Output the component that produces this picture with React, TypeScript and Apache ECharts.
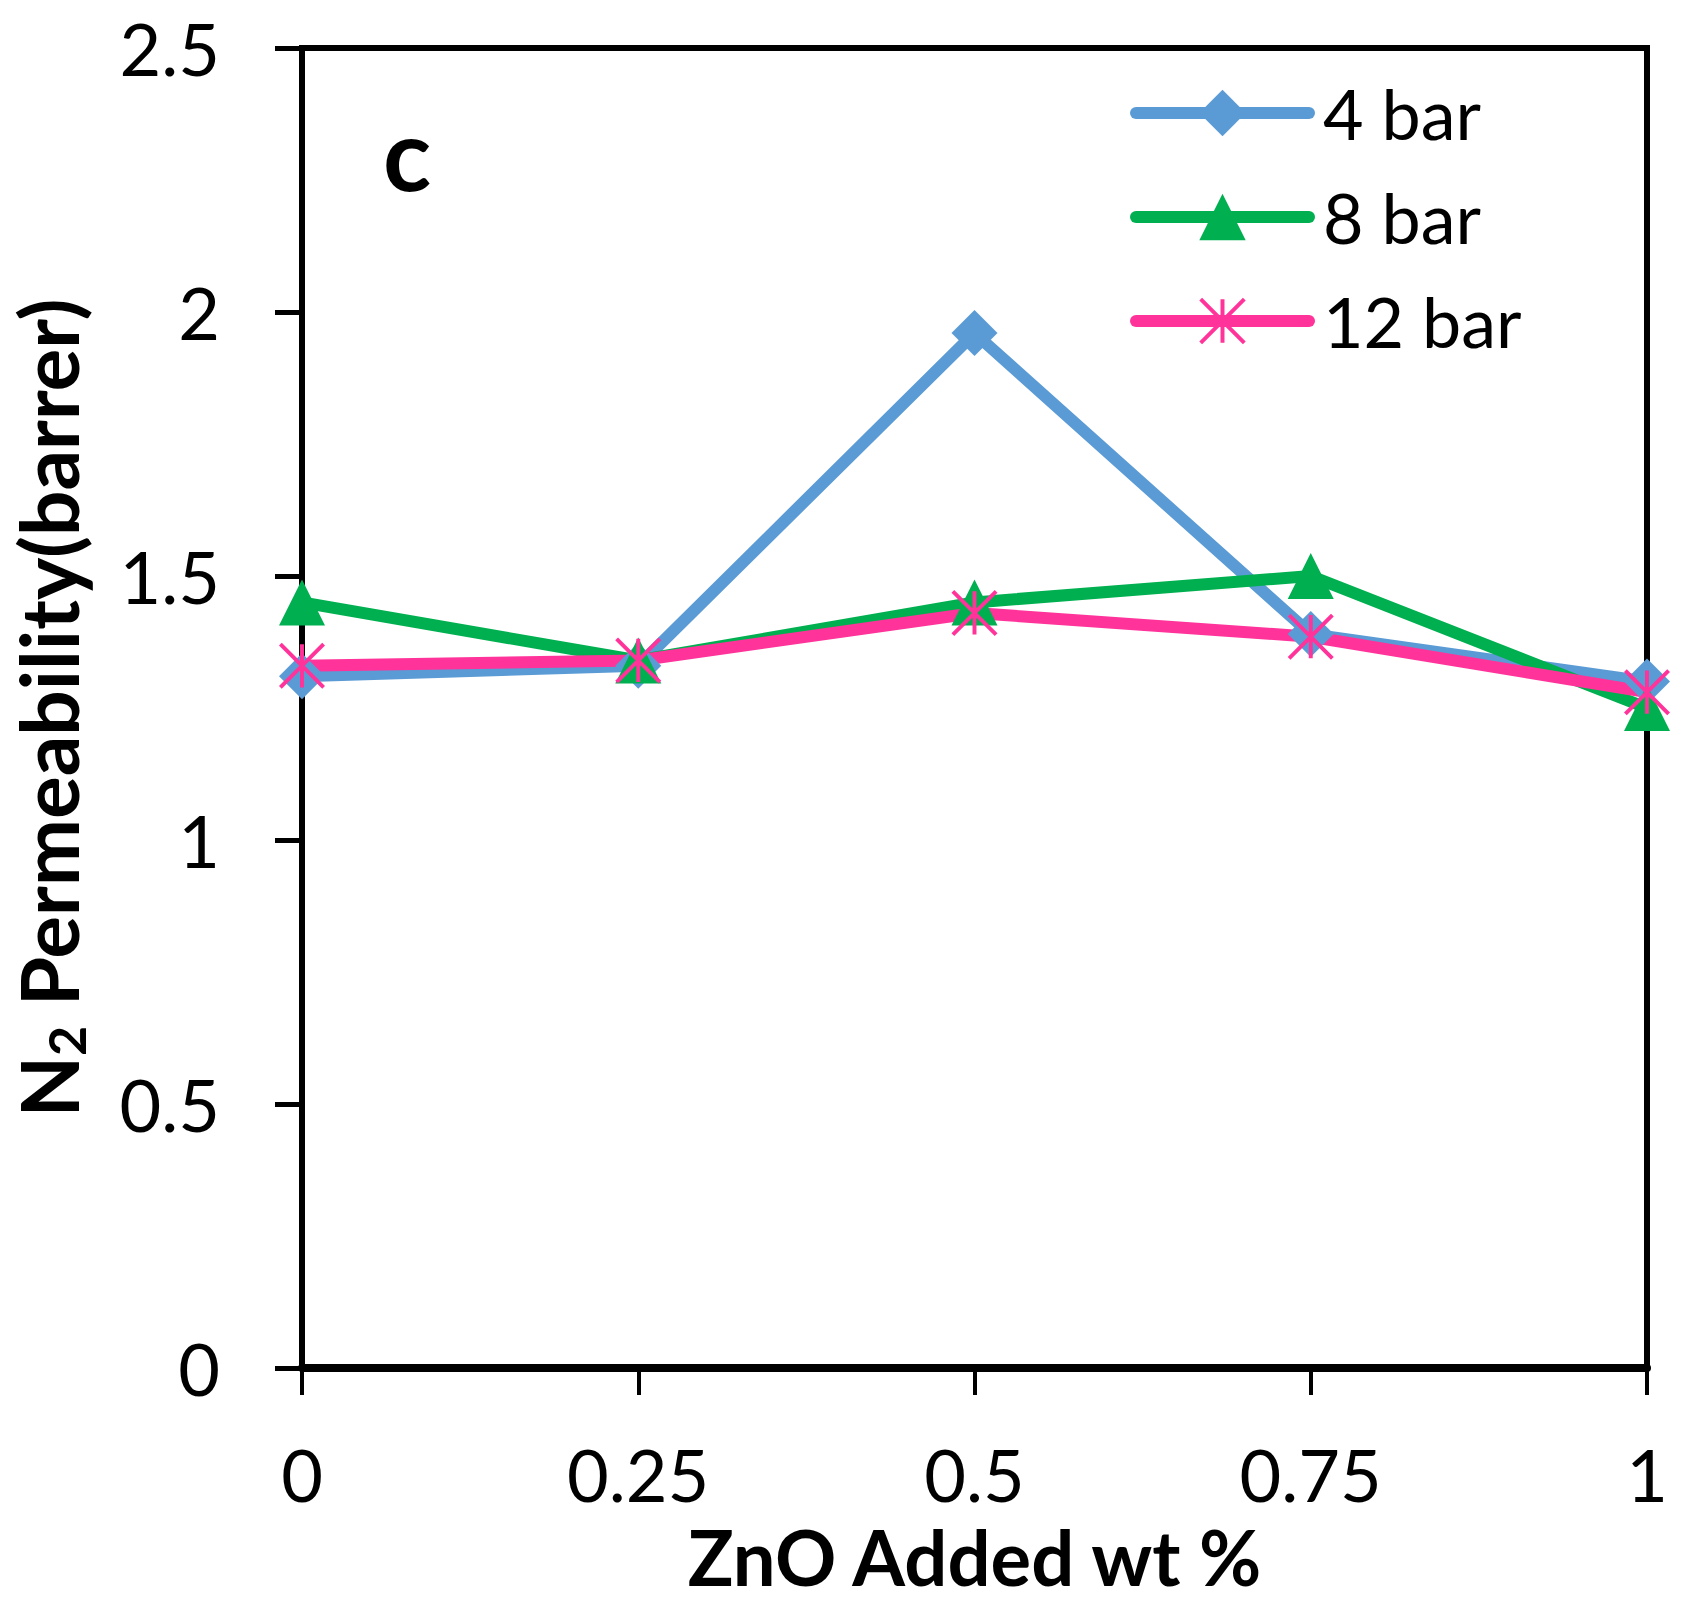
import React, { useEffect, useRef } from "react";
import * as echarts from "echarts";

// ZnO loading (wt %) and N2 permeability (barrer) at each feed pressure
const znoLoading = [0, 0.25, 0.5, 0.75, 1];
const perm4bar = [1.31, 1.33, 1.96, 1.39, 1.3];
const perm8bar = [1.45, 1.34, 1.45, 1.5, 1.25];
const perm12bar = [1.33, 1.34, 1.43, 1.385, 1.28];
const seriesNames = ["4 bar", "8 bar", "12 bar"];

const FONT = "Lato, 'Open Sans', sans-serif";

// asterisk marker made of three thin bars
const ASTERISK =
  "path://M-2,-22L2,-22L2,22L-2,22Z M-23.4,-20.6L-20.6,-23.4L23.4,20.6L20.6,23.4Z M20.6,-23.4L23.4,-20.6L-20.6,23.4L-23.4,20.6Z";

const App = () => {
  const chartRef = useRef<HTMLDivElement>(null);

  useEffect(() => {
    const chart = echarts.init(chartRef.current, null, { renderer: "svg" });

    const makeSeries = (
      name: string,
      values: number[],
      color: string,
      symbol: string
    ) => ({
      name,
      type: "line",
      data: znoLoading.map((x, i) => [x, values[i]]),
      symbol,
      symbolSize: 46,
      lineStyle: { color, width: 12, cap: "round", join: "round" },
      itemStyle: { color },
      emphasis: { disabled: true }
    });

    const option = {
      animation: false,
      grid: {
        left: 302,
        right: 38,
        top: 48,
        bottom: 243,
        show: true,
        borderColor: "#000",
        borderWidth: 6
      },
      legend: {
        data: seriesNames,
        orient: "vertical",
        left: 1130,
        top: 78,
        padding: 0,
        itemWidth: 173,
        itemHeight: 58,
        itemGap: 34,
        lineStyle: { width: 12, cap: "round" },
        textStyle: {
          fontSize: 70,
          color: "#000",
          fontFamily: FONT,
          padding: [0, 0, 0, 9]
        }
      },
      graphic: [
        {
          type: "text",
          x: 407,
          y: 152,
          style: {
            text: "c",
            fontSize: 100,
            fontWeight: "bold",
            fontFamily: FONT,
            fill: "#000",
            align: "center",
            verticalAlign: "middle"
          }
        }
      ],
      xAxis: {
        type: "value",
        min: 0,
        max: 1,
        interval: 0.25,
        name: "ZnO Added wt %",
        nameLocation: "middle",
        nameGap: 150,
        nameTextStyle: {
          fontSize: 76,
          fontWeight: "bold",
          color: "#000",
          fontFamily: FONT
        },
        axisLine: { lineStyle: { color: "#000", width: 8 } },
        axisTick: { show: true, length: 27, lineStyle: { color: "#000", width: 4 } },
        axisLabel: { fontSize: 72, color: "#000", margin: 70, fontFamily: FONT },
        splitLine: { show: false }
      },
      yAxis: {
        type: "value",
        min: 0,
        max: 2.5,
        interval: 0.5,
        name: "{n|N}{s|2}{n| Permeability(barrer)}",
        nameLocation: "middle",
        nameGap: 210,
        nameTextStyle: {
          color: "#000",
          rich: {
            n: {
              fontSize: 80,
              fontWeight: "bold",
              fontFamily: FONT,
              lineHeight: 88,
              color: "#000"
            },
            s: {
              fontSize: 52,
              fontWeight: "bold",
              fontFamily: FONT,
              lineHeight: 42,
              verticalAlign: "bottom",
              color: "#000"
            }
          }
        },
        axisLine: { show: true, lineStyle: { color: "#000", width: 6 } },
        axisTick: { show: true, length: 27, lineStyle: { color: "#000", width: 5 } },
        axisLabel: { fontSize: 72, color: "#000", margin: 82, fontFamily: FONT },
        splitLine: { show: false }
      },
      series: [
        makeSeries(seriesNames[0], perm4bar, "#5B9BD5", "diamond"),
        makeSeries(seriesNames[1], perm8bar, "#00B050", "triangle"),
        makeSeries(seriesNames[2], perm12bar, "#FF3399", ASTERISK)
      ]
    };

    chart.setOption(option);

    return () => {
      chart.dispose();
    };
  }, []);

  return (
    <div
      ref={chartRef}
      style={{
        position: "fixed",
        left: 0,
        top: 0,
        width: 1685,
        height: 1611,
        background: "#fff"
      }}
    />
  );
};

export default App;
